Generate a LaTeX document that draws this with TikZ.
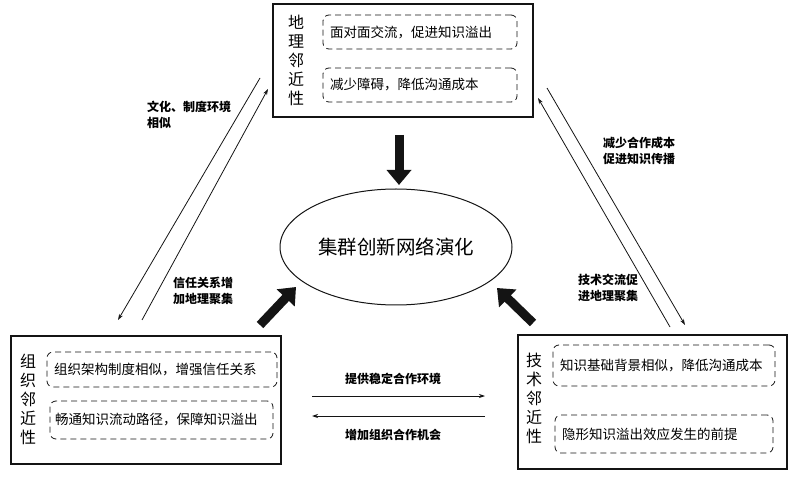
\documentclass[tikz,border=0pt]{standalone}
\usepackage{fontspec}
\setmainfont{Noto Sans CJK SC}
\usetikzlibrary{arrows.meta, positioning, shapes.geometric}
\definecolor{inkblack}{RGB}{20, 20, 20}

\tikzset{
  proxbox/.style={draw=inkblack, line width=1.3pt, inner sep=0pt},
  proxtitle/.style={font=\fontsize{16}{19}\selectfont, align=center, inner sep=0pt},
  effectbox/.style={draw=inkblack, dash pattern=on 6pt off 4pt, line width=0.8pt, rounded corners=6pt,
    font=\fontsize{13.5}{16}\selectfont, align=left, inner xsep=7pt, inner ysep=0pt},
  linklabel/.style={font=\bfseries\fontsize{12}{16}\selectfont, align=left, inner sep=0pt},
  linkarrow/.style={-{Stealth[length=6pt, width=4pt]}, line width=0.8pt, inkblack},
  bigarrow/.style={-{Triangle[length=15pt, width=24pt]}, line width=9pt, inkblack}
}

\begin{document}
\begin{tikzpicture}[x=1pt, y=-1pt]
  \useasboundingbox (0,0) rectangle (795,478);

  % Proximity boxes
  \node[proxbox, minimum width=260pt, minimum height=113pt] (geo) at (403, 60.5) {};
  \node[proxtitle] (geotitle) at (296, 60.5) {地\\理\\邻\\近\\性};
  \node[effectbox, text width=180pt, minimum height=34pt] (geoa) at (420, 32) {面对面交流，促进知识溢出};
  \node[effectbox, text width=180pt, minimum height=34pt] (geob) at (420, 85) {减少障碍，降低沟通成本};

  \node[proxbox, minimum width=270pt, minimum height=128pt] (org) at (146, 400) {};
  \node[proxtitle] (orgtitle) at (28, 399.5) {组\\织\\邻\\近\\性};
  \node[effectbox, text width=216pt, minimum height=35pt] (orga) at (162, 369.5) {组织架构制度相似，增强信任关系};
  \node[effectbox, text width=213pt, minimum height=38pt, inner xsep=5pt] (orgb) at (161.5, 420) {畅通知识流动路径，保障知识溢出};

  \node[proxbox, minimum width=269pt, minimum height=134pt] (tech) at (652.5, 402) {};
  \node[proxtitle] (techtitle) at (534, 398.5) {技\\术\\邻\\近\\性};
  \node[effectbox, text width=208pt, minimum height=41pt] (techa) at (664, 365.5) {知识基础背景相似，降低沟通成本};
  \node[effectbox, text width=204pt, minimum height=38pt] (techb) at (664, 434) {隐形知识溢出效应发生的前提};

  % Centre
  \node[draw=inkblack, line width=1pt, ellipse, minimum width=232pt, minimum height=116pt,
    font=\fontsize{19.5}{22}\selectfont] (net) at (396, 247) {集群创新网络演化};

  % Thick arrows into the centre
  \coordinate (geoout) at (399, 135);
  \coordinate (geoin) at (399, 185);
  \coordinate (orgout) at (260, 325);
  \coordinate (orgin) at (296, 287);
  \coordinate (techout) at (533, 323);
  \coordinate (techin) at (497, 288);
  \draw[bigarrow] (geoout) -- (geoin);
  \draw[bigarrow] (orgout) -- (orgin);
  \draw[bigarrow] (techout) -- (techin);

  % Links between proximities
  \coordinate (geoL1) at (260, 78);
  \coordinate (orgL1) at (118, 320);
  \coordinate (orgL2) at (142, 320);
  \coordinate (geoL2) at (268, 89);
  \coordinate (geoR1) at (547, 88);
  \coordinate (techR1) at (685, 325);
  \coordinate (techR2) at (670, 327);
  \coordinate (geoR2) at (538, 98);
  \coordinate (orgH1) at (312, 396);
  \coordinate (techH1) at (485, 396);
  \coordinate (techH2) at (485, 416);
  \coordinate (orgH2) at (312, 416);

  \draw[linkarrow] (geoL1) -- (orgL1);
  \draw[linkarrow] (orgL2) -- (geoL2);
  \draw[linkarrow] (geoR1) -- (techR1);
  \draw[linkarrow] (techR2) -- (geoR2);
  \draw[linkarrow] (orgH1) -- (techH1);
  \draw[linkarrow] (techH2) -- (orgH2);

  \node[linklabel, anchor=north west] (lblgo) at (147, 101) {文化、制度环境\\相似};
  \node[linklabel, anchor=north west] (lblog) at (173, 277) {信任关系增\\加地理聚集};
  \node[linklabel, anchor=north west] (lblgt) at (603, 137) {减少合作成本\\促进知识传播};
  \node[linklabel, anchor=north west] (lbltg) at (578, 274) {技术交流促\\进地理聚集};
  \node[linklabel] (lblot) at (393, 379) {提供稳定合作环境};
  \node[linklabel] (lblto) at (393, 435) {增加组织合作机会};
\end{tikzpicture}
\end{document}
